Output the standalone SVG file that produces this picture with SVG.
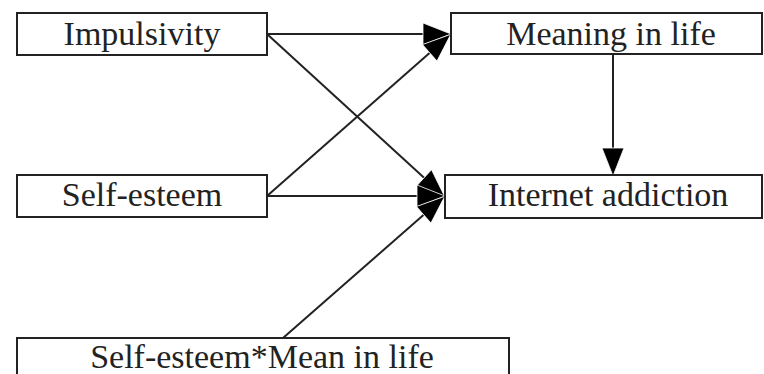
<svg xmlns="http://www.w3.org/2000/svg" width="764" height="374" viewBox="0 0 764 374">
<style>
.box{fill:#fff;stroke:#222;stroke-width:2}
.lbl{font-family:'Liberation Serif','Times New Roman',serif;font-size:34px;fill:#222;text-anchor:middle}
.edge{stroke:#222;stroke-width:2;fill:none}
</style>
<defs>
<marker id="ah" markerUnits="userSpaceOnUse" viewBox="0 0 28 22" markerWidth="28" markerHeight="22" refX="27" refY="11" orient="auto" overflow="visible">
<path d="M0,0 L28,11 L0,22 Z" fill="#000" stroke="#fff" stroke-width="0.8"/>
</marker>
</defs>
<rect width="764" height="374" fill="#fff"/>
<g id="edges">
<line class="edge" x1="267" y1="34" x2="450" y2="34" marker-end="url(#ah)"/>
<line class="edge" x1="267" y1="34" x2="444" y2="196" marker-end="url(#ah)"/>
<line class="edge" x1="267" y1="196" x2="450" y2="35" marker-end="url(#ah)"/>
<line class="edge" x1="267" y1="196" x2="444" y2="196" marker-end="url(#ah)"/>
<line class="edge" x1="283" y1="338" x2="444" y2="197" marker-end="url(#ah)"/>
<line class="edge" x1="613" y1="54" x2="613" y2="175" marker-end="url(#ah)"/>
</g>
<g id="impulsivity">
<rect class="box" x="17" y="13" width="250" height="42"/>
<text class="lbl" x="142" y="45">Impulsivity</text>
</g>
<g id="meaning">
<rect class="box" x="451" y="13" width="311" height="41"/>
<text class="lbl" x="611" y="45">Meaning in life</text>
</g>
<g id="selfesteem">
<rect class="box" x="17" y="175" width="250" height="42"/>
<text class="lbl" x="142" y="206">Self-esteem</text>
</g>
<g id="internet">
<rect class="box" x="445" y="175" width="317" height="43"/>
<text class="lbl" x="608" y="206">Internet addiction</text>
</g>
<g id="interaction">
<rect class="box" x="17" y="338" width="492" height="50"/>
<text class="lbl" x="262" y="368">Self-esteem*Mean in life</text>
</g>
</svg>
